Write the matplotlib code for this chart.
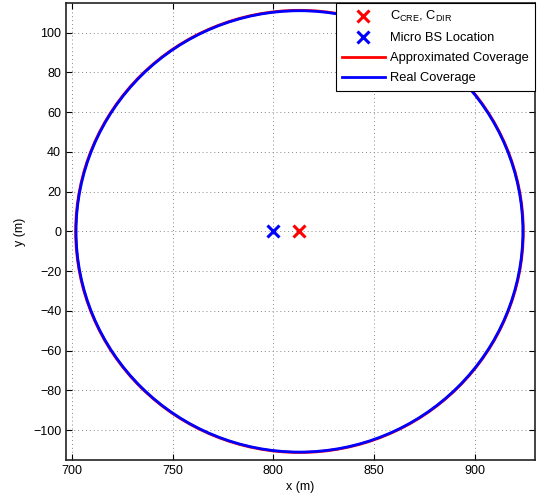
import matplotlib
matplotlib.use('Agg')
import matplotlib.pyplot as plt
from matplotlib.patches import Circle
from matplotlib.lines import Line2D

plt.rcParams['font.family'] = ['Liberation Sans', 'DejaVu Sans']
plt.rcParams['mathtext.fontset'] = 'custom'
plt.rcParams['mathtext.rm'] = 'Liberation Sans'
plt.rcParams['mathtext.it'] = 'Liberation Sans'

# Coverage data (m)
cre_center = (813, 0)
bs_location = (800, 0)
approx_radius = 111.2
real_radius = 111.0

x_ticks = [700, 750, 800, 850, 900]
y_ticks = [-100, -80, -60, -40, -20, 0, 20, 40, 60, 80, 100]
x_lim = (697, 930)
y_lim = (-115, 115)

fig = plt.figure(figsize=(5.4, 4.97), dpi=100)
ax = fig.add_axes([0.1222, 0.0744, 0.8685, 0.92])

# Coverage outlines
ax.add_patch(Circle(cre_center, approx_radius, fill=False, edgecolor='red', lw=2, zorder=3))
ax.add_patch(Circle(cre_center, real_radius, fill=False, edgecolor='blue', lw=2, zorder=4))

# Markers
ax.plot(cre_center[0], cre_center[1], 'x', color='red', ms=8, mew=2.2, zorder=5)
ax.plot(bs_location[0], bs_location[1], 'x', color='blue', ms=8, mew=2.2, zorder=5)

ax.set_xlim(x_lim)
ax.set_ylim(y_lim)
ax.set_xticks(x_ticks)
ax.set_yticks(y_ticks)
ax.set_yticklabels([str(v).replace('-', '\u2212') for v in y_ticks])
ax.tick_params(direction='in', top=True, right=True, labelsize=9, length=4, width=0.8)
ax.grid(True, linestyle=(0, (1, 3)), color='#888888', linewidth=0.7)
for sp in ax.spines.values():
    sp.set_linewidth(1.2)
    sp.set_color('#222222')

ax.set_xlabel('x (m)', fontsize=9, labelpad=3)
ax.set_ylabel('y (m)', fontsize=9, labelpad=5)

handles = [
    Line2D([], [], ls='none', marker='x', color='red', ms=8, mew=2.2),
    Line2D([], [], ls='none', marker='x', color='blue', ms=8, mew=2.2),
    Line2D([], [], color='red', lw=2),
    Line2D([], [], color='blue', lw=2),
]
labels = [r'C$_{\mathrm{CRE}}$, C$_{\mathrm{DIR}}$', 'Micro BS Location',
          'Approximated Coverage', 'Real Coverage']
leg = ax.legend(handles, labels, loc='upper right', fontsize=9.3, handlelength=3.3,
                handletextpad=0.4, borderaxespad=0.0, borderpad=0.5, labelspacing=0.62,
                fancybox=False, framealpha=1, edgecolor='black')
leg.get_frame().set_linewidth(0.8)

fig.savefig('out.png', dpi=100)
